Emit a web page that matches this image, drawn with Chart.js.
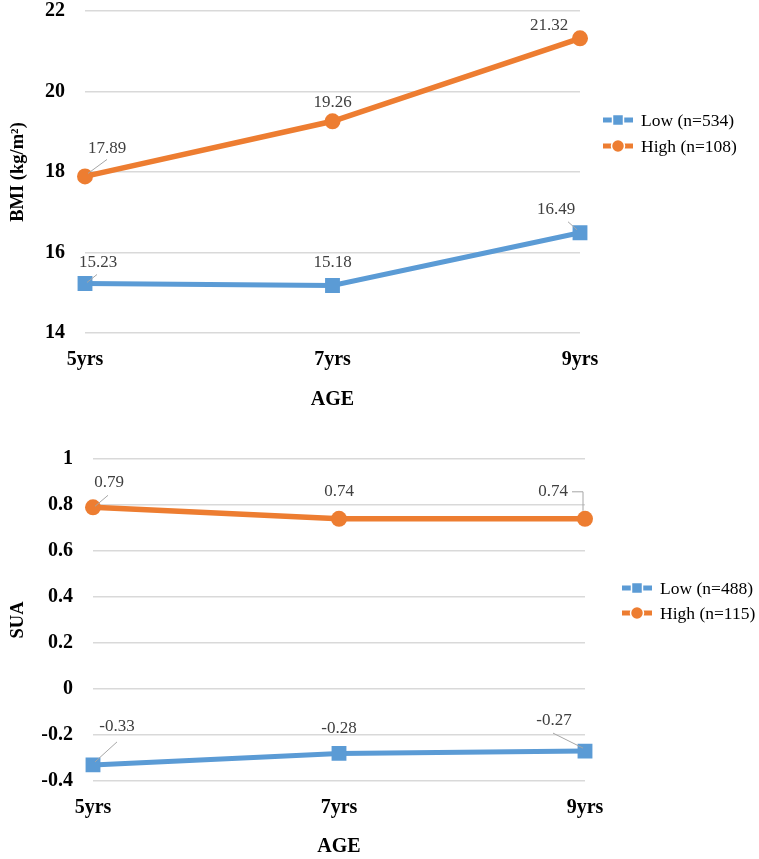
<!DOCTYPE html>
<html><head><meta charset="utf-8">
<script src="https://cdn.jsdelivr.net/npm/chart.js@4"></script>
<style>
html,body{margin:0;padding:0;background:#fff;width:759px;height:859px;overflow:hidden;}
#c1{position:absolute;left:0;top:0;}
#c2{position:absolute;left:0;top:420px;}
</style>
</head><body>
<canvas id="c1" width="759" height="420" style="width:759px;height:420px"></canvas>
<canvas id="c2" width="759" height="439" style="width:759px;height:439px"></canvas>
<script>
// ---- data ----
const categories = ['5yrs', '7yrs', '9yrs'];
const bmiLow = [15.23, 15.18, 16.49];
const bmiHigh = [17.89, 19.26, 21.32];
const bmiSeriesNames = ['Low (n=534)', 'High (n=108)'];
const suaLow = [-0.33, -0.28, -0.27];
const suaHigh = [0.79, 0.74, 0.74];
const suaSeriesNames = ['Low (n=488)', 'High (n=115)'];
const bmiAxis = {min: 14, max: 22, step: 2};
const suaAxis = {min: -0.4, max: 1, step: 0.2};
const xTitle = 'AGE';
const bmiTitle = 'BMI (kg/m\u00B2)';
const suaTitle = 'SUA';

// ---- styles ----
const BLUE = '#5B9BD5', ORANGE = '#ED7D31';
const FONT = "'Liberation Serif', 'Times New Roman', serif";

const dataLabelPlugin = {
  id: 'dataLabels',
  afterDatasetsDraw(chart, args, opts) {
    const ctx = chart.ctx;
    ctx.save();
    ctx.font = '17px ' + FONT;
    ctx.textAlign = 'center';
    ctx.textBaseline = 'middle';
    (opts.offsets || []).forEach((arr, di) => {
      const meta = chart.getDatasetMeta(di);
      meta.data.forEach((pt, j) => {
        const o = arr[j];
        const tx = pt.x + o[0], ty = pt.y + o[1];
        const val = chart.data.datasets[di].data[j];
        ctx.fillStyle = '#404040';
        ctx.fillText(val.toFixed(2), tx, ty);
        if (o[2]) {
          ctx.strokeStyle = '#a6a6a6';
          ctx.lineWidth = 1;
          ctx.beginPath();
          o[2].forEach((p, k) => {
            if (k === 0) ctx.moveTo(pt.x + p[0], pt.y + p[1]);
            else ctx.lineTo(pt.x + p[0], pt.y + p[1]);
          });
          ctx.stroke();
        }
      });
    });
    ctx.restore();
  }
};

const sideLegendPlugin = {
  id: 'sideLegend',
  afterDraw(chart, args, opts) {
    const ctx = chart.ctx;
    ctx.save();
    chart.data.datasets.forEach((ds, i) => {
      const x = opts.x, y = opts.y + i * opts.gap;
      ctx.strokeStyle = ds.borderColor;
      ctx.lineWidth = 5;
      ctx.beginPath(); ctx.moveTo(x, y); ctx.lineTo(x + 30, y); ctx.stroke();
      ctx.fillStyle = ds.backgroundColor;
      ctx.strokeStyle = '#ffffff';
      ctx.lineWidth = 1.5;
      ctx.beginPath();
      if (ds.pointStyle === 'rect') ctx.rect(x + 15 - 5.5, y - 5.5, 11, 11);
      else ctx.arc(x + 15, y, 6.5, 0, Math.PI * 2);
      ctx.fill(); ctx.stroke();
      ctx.fillStyle = '#000';
      ctx.font = '17.5px ' + FONT;
      ctx.textAlign = 'left';
      ctx.textBaseline = 'middle';
      ctx.fillText(ds.label, x + 38, y + 1);
    });
    ctx.restore();
  }
};

function makeChart(id, low, high, names, yTitle, ax, lay) {
  const tickFont = {family: FONT, size: 20, weight: 'bold'};
  const yTitleFont = {family: FONT, size: 18.5, weight: 'bold'};
  return new Chart(document.getElementById(id), {
    type: 'line',
    data: {
      labels: categories,
      datasets: [
        {label: names[0], data: low, borderColor: BLUE, backgroundColor: BLUE,
         borderWidth: 5, pointStyle: 'rect', pointRadius: 10.5, pointBorderWidth: 0,
         pointBackgroundColor: BLUE, tension: 0},
        {label: names[1], data: high, borderColor: ORANGE, backgroundColor: ORANGE,
         borderWidth: 5.5, pointStyle: 'circle', pointRadius: 8, pointBorderWidth: 0,
         pointBackgroundColor: ORANGE, tension: 0}
      ]
    },
    options: {
      responsive: false,
      animation: false,
      devicePixelRatio: 1,
      layout: {padding: {top: lay.top, bottom: lay.bottom, left: 0, right: lay.right}},
      plugins: {
        legend: {display: false},
        tooltip: {enabled: false},
        dataLabels: {offsets: lay.offsets},
        sideLegend: lay.legend
      },
      scales: {
        x: {
          type: 'category', offset: false,
          grid: {display: false, drawTicks: false},
          border: {display: false},
          ticks: {font: tickFont, color: '#000', padding: 15, maxRotation: 0, autoSkip: false},
          title: {display: true, text: xTitle, font: tickFont, color: '#000', padding: {top: 0, bottom: 0}},
          afterFit(s) { s.height = lay.xH; }
        },
        y: {
          min: ax.min, max: ax.max,
          ticks: {stepSize: ax.step, font: tickFont, color: '#000', padding: 20,
                  callback: (v) => String(Number(Number(v).toFixed(1)) || 0)},
          grid: {color: '#d9d9d9', lineWidth: 1.5, drawTicks: false},
          border: {display: false},
          title: {display: true, text: yTitle, font: yTitleFont, color: '#000', padding: {top: 7, bottom: 0}},
          afterFit(s) { s.width = lay.yW; s.paddingTop = 11; s.paddingBottom = 11; }
        }
      }
    },
    plugins: [dataLabelPlugin, sideLegendPlugin]
  });
}

makeChart('c1', bmiLow, bmiHigh, bmiSeriesNames, bmiTitle, bmiAxis, {
  top: 11, bottom: 8, right: 179, xH: 79, yW: 85,
  legend: {x: 603, y: 120, gap: 26},
  offsets: [
    [[13, -21, [[12, -9], [2, -1]]], [0, -23], [-24, -23, [[-12, -11], [-3, -3]]]],
    [[22, -28, [[22, -17], [3, -3]]], [0, -19], [-31, -13]]
  ]
});

makeChart('c2', suaLow, suaHigh, suaSeriesNames, suaTitle, suaAxis, {
  top: 39, bottom: 0, right: 174, xH: 78, yW: 93,
  legend: {x: 622, y: 168, gap: 25},
  offsets: [
    [[24, -38, [[24, -23], [2, -3]]], [0, -25], [-31, -31, [[-32, -18], [-2, -3]]]],
    [[16, -25, [[15, -12], [2, -1]]], [0, -27], [-32, -27, [[-13, -27], [-2, -27], [-2, -8]]]]
  ]
});
</script>
</body></html>
